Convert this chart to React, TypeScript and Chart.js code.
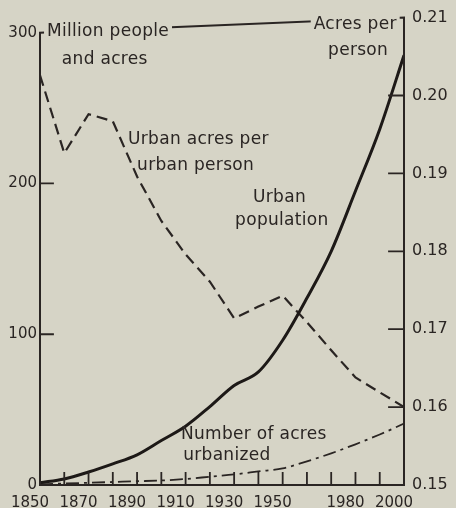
import React, { useEffect, useRef } from "react";
import { Chart, registerables } from "chart.js";

Chart.register(...registerables);

// ---- data ----
const years = [1850, 1860, 1870, 1880, 1890, 1900, 1910, 1920, 1930, 1940, 1950, 1960, 1970, 1980, 1990, 2000];
// Urban population, million people (left axis)
const urbanPopulation = [1.5, 4, 8.6, 14, 20, 29.5, 39, 52, 66, 75, 96, 124, 155, 195, 236, 285];
// Number of acres urbanized, million acres (left axis)
const acresUrbanized = [0.5, 1, 1.5, 2, 2.5, 3, 4, 5.5, 7, 9, 11, 15.7, 21, 27, 33.5, 40.7];
// Urban acres per urban person (right axis)
const acresPerPerson = [0.2026, 0.1926, 0.1976, 0.1967, 0.1896, 0.1839, 0.1796, 0.1761, 0.1714, 0.1729, 0.1743, 0.1709, 0.1673, 0.1638, 0.1619, 0.16];

const xTickLabels = [1850, 1870, 1890, 1910, 1930, 1950, 1980, 2000];
const leftTickValues = [0, 100, 200, 300];
const rightTickValues = [0.15, 0.16, 0.17, 0.18, 0.19, 0.2, 0.21];

// annotation texts (anchored in data coordinates: year, left-axis value)
const annotationTexts = ["Million people", "and acres", "Acres per", "person", "Urban acres per", "urban person", "Urban", "population", "Number of acres", "urbanized"];
const annotationYears = [1852.9, 1859, 1962.8, 1968.7, 1886.3, 1890, 1937.8, 1930.4, 1908.1, 1909];
const annotationValues = [297.5, 279, 302.7, 285, 226.4, 208.6, 187.6, 172.4, 30.3, 16.5];
const annotationMasked = [true, false, true, false, false, false, false, false, false, false];

const INK = "#2a2523";
const BG = "rgb(214,212,198)";
const FONT = "'DejaVu Sans', sans-serif";

export default function App() {
  const ref = useRef<HTMLCanvasElement | null>(null);

  useEffect(() => {
    const canvas = ref.current;
    if (!canvas) return;

    const framePlugin = {
      id: "frame",
      afterDatasetsDraw(chart: any) {
        const ctx = chart.ctx as CanvasRenderingContext2D;
        const xs = chart.scales.x;
        const yl = chart.scales.y;
        const yr = chart.scales.y1;
        const x0 = xs.getPixelForValue(years[0]);
        const x1 = xs.getPixelForValue(years[years.length - 1]);
        const yb = yl.getPixelForValue(leftTickValues[0]);
        const ylTop = yl.getPixelForValue(leftTickValues[leftTickValues.length - 1]);
        const yrTop = yr.getPixelForValue(rightTickValues[rightTickValues.length - 1]);
        const yrBot = yr.getPixelForValue(rightTickValues[0]);

        ctx.save();
        ctx.strokeStyle = INK;
        ctx.lineWidth = 2;
        ctx.lineCap = "square";
        ctx.beginPath();
        ctx.moveTo(x0, yb);
        ctx.lineTo(x0, ylTop);
        ctx.lineTo(x1, yrTop);
        ctx.lineTo(x1, yrBot);
        ctx.moveTo(x0, yb);
        ctx.lineTo(x1, yb);
        ctx.stroke();

        // inward ticks
        ctx.lineWidth = 1.8;
        ctx.beginPath();
        leftTickValues.slice(1, -1).forEach((v) => {
          const p = yl.getPixelForValue(v);
          ctx.moveTo(x0, p);
          ctx.lineTo(x0 + 13, p);
        });
        rightTickValues.slice(1, -1).forEach((v) => {
          const p = yr.getPixelForValue(v);
          ctx.moveTo(x1, p);
          ctx.lineTo(x1 - 15, p);
        });
        xs.ticks.forEach((t: any) => {
          if (t.value <= years[0] || t.value >= years[years.length - 1]) return;
          const p = xs.getPixelForValue(t.value);
          ctx.moveTo(p, yb);
          ctx.lineTo(p, yb - 12);
        });
        ctx.stroke();

        // annotations
        ctx.font = `17px ${FONT}`;
        (ctx as any).letterSpacing = "0.3px";
        ctx.textBaseline = "alphabetic";
        ctx.textAlign = "left";
        annotationTexts.forEach((txt, i) => {
          const px = xs.getPixelForValue(annotationYears[i]);
          const py = yl.getPixelForValue(annotationValues[i]);
          if (annotationMasked[i]) {
            const w = ctx.measureText(txt).width;
            ctx.fillStyle = BG;
            ctx.fillRect(px - 3, py - 16, w + 6, 21);
          }
          ctx.fillStyle = INK;
          ctx.fillText(txt, px, py);
        });
        (ctx as any).letterSpacing = "0px";
        ctx.restore();
      },
    };

    const chart = new Chart(canvas, {
      type: "line",
      data: {
        datasets: [
          {
            label: "Urban population",
            data: years.map((x, i) => ({ x, y: urbanPopulation[i] })),
            yAxisID: "y",
            borderColor: "#1d1917",
            borderWidth: 3,
            pointRadius: 0,
            cubicInterpolationMode: "monotone",
          },
          {
            label: "Number of acres urbanized",
            data: years.map((x, i) => ({ x, y: acresUrbanized[i] })),
            yAxisID: "y",
            borderColor: INK,
            borderWidth: 1.8,
            borderDash: [13, 5, 3, 5],
            pointRadius: 0,
            cubicInterpolationMode: "monotone",
          },
          {
            label: "Urban acres per urban person",
            data: years.map((x, i) => ({ x, y: acresPerPerson[i] })),
            yAxisID: "y1",
            borderColor: INK,
            borderWidth: 2.2,
            borderDash: [11, 6],
            pointRadius: 0,
            tension: 0,
          },
        ],
      },
      options: {
        responsive: false,
        animation: false,
        layout: { padding: { top: 14, left: 0, right: 0, bottom: 0 } },
        plugins: { legend: { display: false }, tooltip: { enabled: false } },
        scales: {
          x: {
            type: "linear",
            position: "bottom",
            min: 1850,
            max: 2000,
            grid: { display: false, drawTicks: false },
            border: { display: false },
            afterBuildTicks: (s: any) => {
              s.ticks = years.map((v) => ({ value: v }));
            },
            afterFit: (s: any) => {
              s.height = 23;
            },
            ticks: {
              autoSkip: false,
              maxRotation: 0,
              minRotation: 0,
              padding: 9,
              labelOffset: -10,
              color: INK,
              font: { family: FONT, size: 15 },
              callback: (v: any) => {
                const n = Math.round(Number(v));
                return xTickLabels.includes(n) ? String(n) : "";
              },
            },
          },
          y: {
            type: "linear",
            position: "left",
            min: 0,
            max: 310,
            grid: { display: false, drawTicks: false },
            border: { display: false },
            afterBuildTicks: (s: any) => {
              s.ticks = leftTickValues.map((v) => ({ value: v }));
            },
            afterFit: (s: any) => {
              s.width = 40;
            },
            ticks: {
              autoSkip: false,
              padding: 3,
              color: INK,
              font: { family: FONT, size: 15 },
              callback: (v: any) => String(Math.round(Number(v))),
            },
          },
          y1: {
            type: "linear",
            position: "right",
            min: 0.15,
            max: 0.21,
            grid: { display: false, drawTicks: false },
            border: { display: false },
            afterBuildTicks: (s: any) => {
              s.ticks = rightTickValues.map((v) => ({ value: v }));
            },
            afterFit: (s: any) => {
              s.width = 52;
            },
            ticks: {
              autoSkip: false,
              padding: 8,
              color: INK,
              font: { family: FONT, size: 16 },
              callback: (v: any) => Number(v).toFixed(2),
            },
          },
        },
      },
      plugins: [framePlugin],
    } as any);

    return () => chart.destroy();
  }, []);

  return (
    <div style={{ position: "fixed", left: 0, top: 0, width: 456, height: 508, background: BG }}>
      <canvas ref={ref} width={456} height={508} style={{ display: "block", width: 456, height: 508 }} />
    </div>
  );
}
